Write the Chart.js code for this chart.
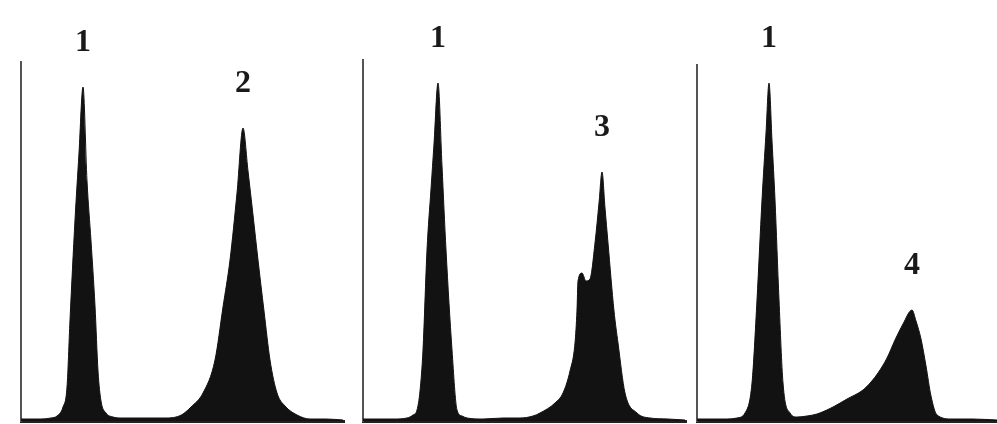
<!DOCTYPE html>
<html>
<head>
<meta charset="utf-8">
<script src="https://cdn.jsdelivr.net/npm/chart.js@4"></script>
<style>
  body { margin: 0; background: #fff; }
  .panel { position: absolute; top: 0; height: 424px; }
</style>
</head>
<body>
<div class="panel" id="p1" style="left:19px;width:326px"><canvas id="c1"></canvas></div>
<div class="panel" id="p2" style="left:361px;width:326px"><canvas id="c2"></canvas></div>
<div class="panel" id="p3" style="left:695px;width:302px"><canvas id="c3"></canvas></div>
<script>
// panel 1: peaks 1 and 2
const chan1 = [0, 10, 20, 30, 36, 42, 46, 49, 54, 58, 62, 66, 70, 74, 77, 80, 85, 92, 100, 115, 130, 145, 155, 162, 170, 182, 194, 202, 209, 216, 222, 227, 232, 237, 243, 249, 256, 264, 276, 289, 305, 322]
const counts1 = [2, 2, 2, 3, 5, 14, 34, 101, 201, 268, 334, 240, 180, 115, 50, 20, 8, 4, 3, 3, 3, 3, 4, 7, 14, 28, 61, 114, 161, 228, 293, 250, 206, 161, 110, 61, 28, 15, 6, 2, 2, 1]
const labels1 = ['1', '2']
const labelChan1 = [62, 222]

// panel 2: peaks 1 and 3 (with shoulder)
const chan2 = [0, 15, 30, 44, 50, 54, 57, 60, 64, 68, 71, 75, 79, 83, 89, 94, 99, 104, 120, 140, 157, 170, 177, 192, 200, 207, 212, 214, 215, 219, 223, 227, 232, 236, 239, 242, 245, 251, 255, 262, 274, 287, 305, 322]
const counts2 = [2, 2, 2, 3, 6, 11, 30, 71, 171, 232, 277, 338, 255, 171, 71, 11, 5, 3, 2, 3, 3, 5, 8, 18, 28, 50, 78, 111, 140, 148, 140, 142, 178, 218, 249, 213, 178, 110, 78, 28, 8, 3, 2, 1]
const labels2 = ['1', '3']
const labelChan2 = [75, 239]

// panel 3: peaks 1 and 4
const chan3 = [0, 15, 30, 40, 48, 55, 60, 65, 69, 72, 75, 78, 82, 86, 93, 100, 110, 120, 136, 150, 166, 174, 181, 190, 198, 206, 215, 219, 224, 229, 234, 240, 255, 275, 300]
const counts3 = [2, 2, 2, 3, 8, 38, 121, 221, 288, 338, 280, 221, 121, 38, 8, 4, 5, 7, 14, 22, 31, 39, 48, 63, 81, 97, 111, 100, 82, 55, 25, 6, 2, 2, 1]
const labels3 = ['1', '4']
const labelChan3 = [72, 215]

function makePanel(id, chans, counts, xMax, yMax, top, labels, labelChans) {
    const points = chans.map((c, i) => ({ x: c, y: counts[i] }))

    const peakLabels = {
        id: 'peakLabels',
        afterDatasetsDraw(chart) {
            const ctx = chart.ctx
            const xs = chart.scales.x
            const ys = chart.scales.y
            ctx.save()
            ctx.fillStyle = '#1a1a1a'
            ctx.font = 'bold 32px "Liberation Serif", "DejaVu Serif", serif'
            ctx.textAlign = 'center'
            ctx.textBaseline = 'middle'
            labels.forEach((txt, i) => {
                const c = labelChans[i]
                const h = counts[chans.indexOf(c)]
                ctx.fillText(txt, xs.getPixelForValue(c), ys.getPixelForValue(h) - 44)
            })
            ctx.restore()
        }
    }

    new Chart(document.getElementById(id), {
        type: 'line',
        data: {
            datasets: [{
                data: points,
                fill: 'origin',
                backgroundColor: '#121212',
                borderColor: '#121212',
                borderWidth: 1,
                pointRadius: 0,
                cubicInterpolationMode: 'monotone'
            }]
        },
        options: {
            responsive: true,
            maintainAspectRatio: false,
            animation: false,
            layout: { padding: { left: 2, right: 0, top: top, bottom: 3 } },
            plugins: { legend: { display: false }, tooltip: { enabled: false } },
            scales: {
                x: {
                    type: 'linear', min: 0, max: xMax,
                    ticks: { display: false },
                    grid: { display: false, drawTicks: false },
                    border: { display: true, color: '#222', width: 3 }
                },
                y: {
                    min: 0, max: yMax,
                    ticks: { display: false },
                    grid: { display: false, drawTicks: false },
                    border: { display: true, color: '#555', width: 2 }
                }
            }
        },
        plugins: [peakLabels]
    })
}

makePanel('c1', chan1, counts1, 324, 359, 62, labels1, labelChan1)
makePanel('c2', chan2, counts2, 324, 361, 60, labels2, labelChan2)
makePanel('c3', chan3, counts3, 300, 356, 65, labels3, labelChan3)
</script>
</body>
</html>
